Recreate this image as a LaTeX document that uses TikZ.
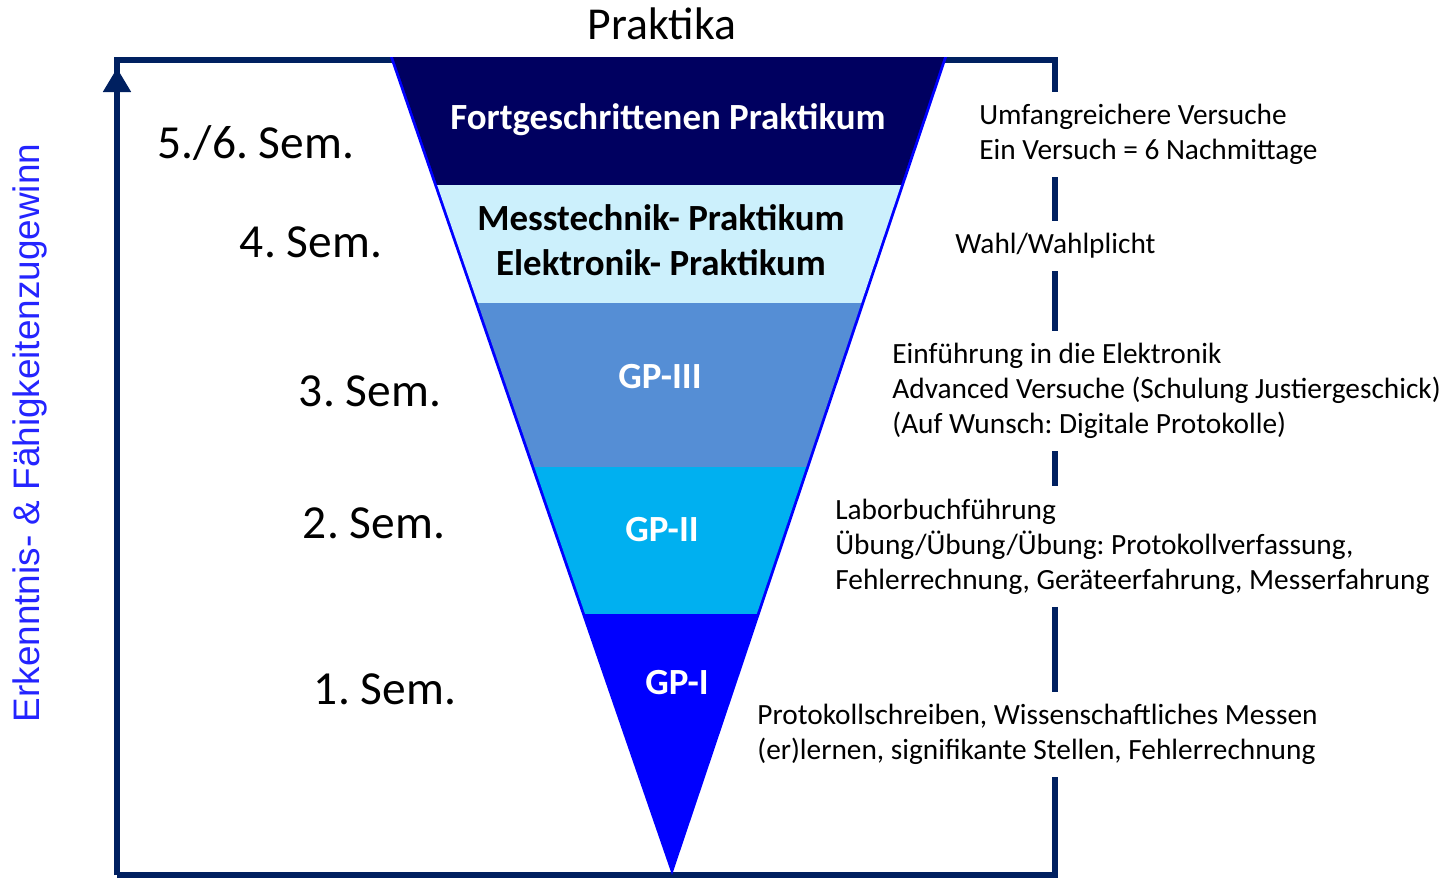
\documentclass[tikz,border=0pt]{standalone}
\usepackage{fontspec}
\setmainfont{Carlito}
\newfontfamily\arialfont{Liberation Sans}
\usetikzlibrary{arrows.meta}
\frenchspacing

\definecolor{rahmenfarbe}{HTML}{002060}
\definecolor{fpfarbe}{HTML}{000060}
\definecolor{mpfarbe}{HTML}{CCF0FC}
\definecolor{gpdrei}{HTML}{558ED5}
\definecolor{gpzwei}{HTML}{00B0F0}
\definecolor{gpeins}{HTML}{0000FF}
\definecolor{achsenfarbe}{HTML}{2424FF}

\tikzset{
  rahmen/.style={draw=rahmenfarbe,line width=2.9pt},
  sem/.style={font={\fontsize{27}{32}\selectfont}},
  stufe/.style={font={\bfseries\fontsize{21}{25.6}\selectfont},align=center},
  info/.style={font={\fontsize{16.7}{19.9}\selectfont},align=left,anchor=west,
    fill=white,inner xsep=0pt,inner ysep=7pt}
}

\begin{document}
\begin{tikzpicture}[x=0.02cm,y=-0.02cm]
  \useasboundingbox (0,0) rectangle (1450,877);

  \coordinate (ul) at (117,875);
  \coordinate (ol) at (117,60);
  \coordinate (or) at (1055,60);
  \coordinate (ur) at (1055,875);

  \node[font={\fontsize{26}{30}\selectfont}] (titel) at (662,24) {Praktika};
  \node[rotate=90,text=achsenfarbe,font={\arialfont\fontsize{21}{25}\selectfont}]
    (achse) at (30,433) {Erkenntnis- \& Fähigkeitenzugewinn};

  % Beschreibungen rechts
  \node[info] (i56) at (979,134.5) {Umfangreichere Versuche\\Ein Versuch = 6 Nachmittage};
  \node[info] (i4) at (955,246) {Wahl/Wahlplicht};
  \node[info] (i3) at (892,391) {Einführung in die Elektronik\\Advanced Versuche (Schulung Justiergeschick)\\(Auf Wunsch: Digitale Protokolle)};
  \node[info] (i2) at (835,546.5) {Laborbuchführung\\Übung/Übung/Übung: Protokollverfassung,\\Fehlerrechnung, Geräteerfahrung, Messerfahrung};
  \node[info] (i1) at (757,734.5) {Protokollschreiben, Wissenschaftliches Messen\\(er)lernen, signifikante Stellen, Fehlerrechnung};

  % Rahmen
  \draw[rahmen,-{Triangle[length=0.48cm,width=0.54cm]}] (ul) -- ([yshift=-0.16cm]ol);
  \draw[rahmen] ([yshift=-0.3cm]ol) -- (ol) -- (or) -- (i56.north -| or);
  \draw[rahmen] (i56.south -| or) -- (i4.north -| or);
  \draw[rahmen] (i4.south -| or) -- (i3.north -| or);
  \draw[rahmen] (i3.south -| or) -- (i2.north -| or);
  \draw[rahmen] (i2.south -| or) -- (i1.north -| or);
  \draw[rahmen] (i1.south -| or) -- (ur) -- (ul);

  % Trichter
  \fill[gpeins] (390,57) -- (947,57) -- (672,875) -- cycle;
  \begin{scope}
    \clip (393,57) -- (944,57) -- (672,866) -- cycle;
    \fill[fpfarbe] (380,50) rectangle (960,185);
    \fill[mpfarbe] (380,185) rectangle (960,303);
    \fill[gpdrei] (380,303) rectangle (960,467);
    \fill[gpzwei] (380,467) rectangle (960,614);
  \end{scope}

  \node[stufe,text=white] (fp) at (668,120) {Fortgeschrittenen Praktikum};
  \node[stufe] (mp) at (661,240) {Messtechnik- Praktikum\\Elektronik- Praktikum};
  \node[stufe,text=white] (gp3) at (660,377) {GP-III};
  \node[stufe,text=white] (gp2) at (662,530) {GP-II};
  \node[stufe,text=white] (gp1) at (677,683) {GP-I};

  % Semester
  \node[sem] (s56) at (256,143) {5./6. Sem.};
  \node[sem] (s4) at (311,242) {4. Sem.};
  \node[sem] (s3) at (370,391) {3. Sem.};
  \node[sem] (s2) at (374,523) {2. Sem.};
  \node[sem] (s1) at (385,689) {1. Sem.};
\end{tikzpicture}
\end{document}
